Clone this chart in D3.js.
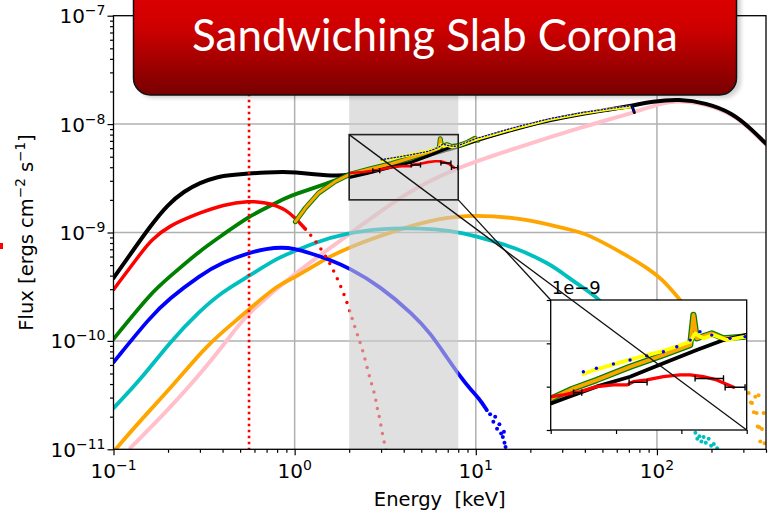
<!DOCTYPE html>
<html>
<head>
<meta charset="utf-8">
<script src="https://cdn.jsdelivr.net/npm/d3@7"></script>
<style>
  body { margin: 0; background: #fff; }
  svg { display: block; font-family: "DejaVu Sans", sans-serif; }
</style>
</head>
<body>
<svg id="chart" width="775" height="517"></svg>
<script>
// ---- model components, [energy keV, flux] ----
const blackModel = [[0.1,3.8e-10],[0.117,5.5e-10],[0.161,1.17e-9],[0.2,1.82e-9],[0.245,2.4e-9],[0.3,2.88e-9],
  [0.374,3.27e-9],[0.45,3.39e-9],[0.558,3.5e-9],[0.7,3.59e-9],[0.87,3.63e-9],[1.0,3.59e-9],[1.27,3.45e-9],
  [1.71,3.32e-9],[2.0,3.4e-9],[3,3.9e-9],[4,4.4e-9],[6,5.4e-9],[8,6.2e-9],[10,7.1e-9],[16.7,9.1e-9],
  [25.5,1.09e-8],[39,1.25e-8],[54.5,1.36e-8],[70,1.46e-8],[95,1.62e-8],[133,1.7e-8],[186,1.57e-8],
  [261,1.27e-8],[334,8.9e-9],[400,6.6e-9]];
const redModel = [[0.1,2.97e-10],[0.146,6.9e-10],[0.161,8.4e-10],[0.2,1.15e-9],[0.303,1.53e-9],[0.4,1.8e-9],
  [0.558,1.96e-9],[0.7,1.88e-9],[0.8,1.76e-9],[0.89,1.62e-9],[1.0,1.38e-9],[1.145,1.08e-9]];
const redModelTail = [[1.145,1.08e-9],[1.27,8.8e-10],[1.38,7.3e-10],[1.57,5.2e-10],[1.75,3.55e-10],[1.94,2.32e-10],
  [2.07,1.63e-10],[2.22,1.14e-10],[2.4,7.8e-11],[2.55,5.1e-11],[2.67,3.94e-11],[2.79,3.07e-11],[2.85,2.4e-11],
  [2.95,1.94e-11],[3.04,1.41e-11],[3.17,1.06e-11],[3.25,8e-12]];
const greenModel = [[0.1,1.04e-10],[0.161,2.77e-10],[0.2,3.79e-10],[0.303,6.9e-10],[0.4,9.5e-10],[0.558,1.4e-9],
  [0.7,1.7e-9],[0.89,2.08e-9],[1.0,2.25e-9],[1.355,2.66e-9],[1.71,3.07e-9],[1.9,3.29e-9],[2.2,3.5e-9]];
const blueModel = [[0.1,6.35e-11],[0.161,1.69e-10],[0.2,2.4e-10],[0.303,4.08e-10],[0.4,5.3e-10],[0.558,6.5e-10],
  [0.7,7.1e-10],[0.85,7.3e-10],[1.0,7.1e-10],[1.2,6.5e-10],[1.57,5.6e-10],[2.0,4.7e-10],[2.96,3.2e-10],
  [4.54,1.74e-10],[5.61,1.18e-10],[6.94,7.0e-11],[8.2,4.7e-11],[9.3,3.6e-11],[10.5,2.9e-11],[11.5,2.3e-11]];
const blueTail = [[12.0,2.1e-11],[12.5,1.8e-11],[12.8,2.0e-11],[13.1,1.55e-11],[13.5,1.7e-11],[13.8,1.4e-11],
  [14.1,1.3e-11],[14.3,1.45e-11],[14.4,1.15e-11],[14.6,1.05e-11]];
const cyanModel = [[0.1,2.4e-11],[0.141,4.38e-11],[0.206,9.9e-11],[0.3,1.9e-10],[0.4,2.85e-10],[0.558,3.96e-10],
  [0.83,6.0e-10],[1.0,6.7e-10],[1.27,8.0e-10],[1.94,9.9e-10],[3,1.08e-9],[4,1.1e-9],[6,1.08e-9],[8.5,9.9e-10],
  [11,8.8e-10],[16,7.4e-10],[25.5,5.2e-10],[32,3.9e-10],[37,3.3e-10],[46,2.58e-10],[60,1.7e-10],[80,9e-11],
  [110,4e-11],[140,2.0e-11]];
const cyanTail = [[163,1.42e-11],[167,1.25e-11],[171.6,1.32e-11],[176,1.18e-11],[181,1.3e-11],[186,1.15e-11],
  [193,1.25e-11],[199,1.08e-11],[206,1.12e-11],[215,1.02e-11]];
const orangeModel = [[0.1,9.5e-12],[0.141,1.85e-11],[0.215,3.94e-11],[0.328,9.2e-11],[0.48,1.56e-10],[0.558,1.95e-10],
  [0.83,3.4e-10],[1.0,3.8e-10],[1.44,5.6e-10],[1.94,7.2e-10],[3.66,1.06e-9],[6.35,1.36e-9],[9.7,1.46e-9],
  [18.2,1.36e-9],[32.9,1.06e-9],[40.6,9.9e-10],[70,6.0e-10],[90,4.6e-10],[107,3.7e-10],[127,2.67e-10],[150,1.9e-10]];
const orangeTail = [[321,3.3e-11],[330,2.7e-11],[335,2.67e-11],[343,2.2e-11],[349,3.06e-11],[355,2.16e-11],
  [360,1.62e-11],[364,3.15e-11],[368,1.6e-11],[372,1.18e-11],[380,1.54e-11],[388,2.16e-11],[393,1.14e-11]];
const pinkModel = [[0.124,1.03e-11],[0.2,2.3e-11],[0.328,5.8e-11],[0.5,1.46e-10],[0.558,1.81e-10],[1.0,4.24e-10],
  [1.94,9.2e-10],[4,2.3e-9],[8.17,4.1e-9],[16.7,6.0e-9],[39,9.5e-9],[73,1.26e-8],[103,1.55e-8],[133,1.66e-8],
  [186,1.53e-8],[261,1.24e-8],[334,8.7e-9],[400,6.45e-9]];

// ---- observed spectra ----
const orangeData = [[1.01,1.26e-9],[1.145,1.68e-9],[1.355,2.31e-9],[1.675,2.96e-9],[2.03,3.46e-9],[2.66,3.9e-9],
  [3.41,4.31e-9],[4.43,4.92e-9],[5.45,5.46e-9],[6.27,5.92e-9],[6.37,7.31e-9],[6.47,6.23e-9],[6.93,6.46e-9],
  [7.29,6.23e-9],[7.95,6.31e-9],[9.0,6.8e-9],[9.9,7.4e-9],[10.3,7.1e-9]];
const yellowData = [[3.0,4.58e-9],[3.4,4.8e-9],[4.43,5.25e-9],[5.45,5.65e-9],[6.27,6.07e-9],[6.42,6.46e-9],
  [6.67,6.23e-9],[6.98,6.38e-9],[7.39,6.15e-9],[7.95,6.31e-9],[10,7.2e-9],[16.7,9.2e-9],[25.5,1.1e-8],
  [39,1.26e-8],[54.5,1.37e-8],[70.5,1.44e-8]];
const blueData = [[3.0,4.69e-9],[3.4,4.85e-9],[3.92,5.05e-9],[4.43,5.23e-9],[4.94,5.42e-9],[5.45,5.61e-9],
  [5.86,5.84e-9],[6.27,6.15e-9],[6.57,6.54e-9],[6.93,6.38e-9],[7.49,6.23e-9],[7.95,6.31e-9],[10,7.35e-9],
  [16.7,9.4e-9],[25.5,1.12e-8],[39,1.28e-8],[54.5,1.39e-8],[70.5,1.47e-8],[73,1.48e-8],[75,1.28e-8]];
const blackData = [[2.03,3.23e-9],[2.5,3.5e-9],[3.4,4.0e-9],[4.43,4.46e-9],[5.45,5.08e-9],[6.47,5.69e-9],
  [7.29,6.15e-9],[7.95,6.38e-9],[10,7.1e-9],[16.7,9.1e-9],[25.5,1.09e-8],[39,1.25e-8],[54.5,1.36e-8],
  [70.5,1.44e-8],[73,1.45e-8],[75,1.28e-8]];
const redData = [[2.03,3.54e-9],[2.39,3.62e-9],[2.9,3.77e-9],[3.4,4.0e-9],[3.92,4.08e-9],[4.33,4.08e-9],
  [4.53,4.23e-9],[4.94,4.31e-9],[5.45,4.46e-9],[5.96,4.54e-9],[6.27,4.54e-9],[6.67,4.46e-9],[7.08,4.31e-9],
  [7.6,3.97e-9]];
// [E low, E high, flux]
const redErr = [[2.7,2.95,3.72e-9],[4.4,4.95,4.2e-9],[6.42,7.29,4.38e-9],[7.34,7.95,3.97e-9]];

const majorX = [0.1, 1, 10, 100];
const majorY = [1e-11, 1e-10, 1e-9, 1e-8, 1e-7];
const insetTicksX = [2, 4, 6, 8];
const insetTicksY = [2e-9, 4e-9, 6e-9, 8e-9];
const band = [2, 8];
const peakLine = 0.56;

const svg = d3.select('#chart');
const L = 113.5, R = 766, T = 15.7, B = 449.3;
const IL = 550.7, IR = 746.7, IT = 300, IB = 430;

const x = d3.scaleLog().domain([0.1, 400]).range([L, R]);
const y = d3.scaleLog().domain([1e-11, 1e-7]).range([B, T]);
const xi = d3.scaleLinear().domain([2, 8]).range([IL, IR]);
const yi = d3.scaleLinear().domain([2e-9, 8e-9]).range([IB, IT]);

const defs = svg.append('defs');
defs.append('clipPath').attr('id', 'plotClip').append('rect')
    .attr('x', L).attr('y', T).attr('width', R - L).attr('height', B - T);
defs.append('clipPath').attr('id', 'insetClip').append('rect')
    .attr('x', IL).attr('y', IT).attr('width', IR - IL).attr('height', IB - IT);
const grad = defs.append('linearGradient').attr('id', 'banner').attr('x1', 0).attr('y1', 0).attr('x2', 0).attr('y2', 1);
grad.append('stop').attr('offset', '0%').attr('stop-color', '#e60000');
grad.append('stop').attr('offset', '45%').attr('stop-color', '#d00000');
grad.append('stop').attr('offset', '100%').attr('stop-color', '#780000');
defs.append('filter').attr('id', 'blur').append('feGaussianBlur').attr('stdDeviation', 2);

function minors(lo, hi) {
    const out = [];
    for (let e = lo; e < hi; e++) for (let m = 2; m <= 9; m++) out.push(m * Math.pow(10, e));
    return out;
}

// grid
const grid = svg.append('g').attr('stroke', '#b0b0b0').attr('stroke-width', 1.5);
grid.selectAll('line.gx').data(majorX.slice(1)).join('line')
    .attr('x1', d => x(d)).attr('x2', d => x(d)).attr('y1', T).attr('y2', B);
grid.selectAll('line.gy').data(majorY.slice(1, -1)).join('line')
    .attr('x1', L).attr('x2', R).attr('y1', d => y(d)).attr('y2', d => y(d));

const plot = svg.append('g').attr('clip-path', 'url(#plotClip)');

function curve(g, data, xs, ys, color, width, dash, smooth) {
    const line = d3.line().x(d => xs(d[0])).y(d => ys(d[1]))
        .curve(smooth ? d3.curveBasis : d3.curveLinear);
    const p = g.append('path').datum(data).attr('d', line)
        .attr('fill', 'none').attr('stroke', color).attr('stroke-width', width)
        .attr('stroke-linejoin', 'round').attr('stroke-linecap', 'round');
    if (dash) p.attr('stroke-dasharray', dash);
    return p;
}
function model(data, color, width, dash) {
    return curve(plot, data, x, y, color, width, dash, true);
}
function dots(g, data, xs, ys, color, r) {
    g.append('g').selectAll('circle').data(data).join('circle')
        .attr('cx', d => xs(d[0])).attr('cy', d => ys(d[1])).attr('r', r).attr('fill', color);
}

// model components
model(pinkModel, 'pink', 4);
model(orangeModel, 'orange', 3.8);
dots(plot, orangeTail, x, y, 'orange', 2);
model(cyanModel, '#00bfbf', 3.8);
dots(plot, cyanTail, x, y, '#00bfbf', 2);
model(blueModel, 'blue', 3.8);
dots(plot, blueTail, x, y, 'blue', 2);
model(greenModel, 'green', 3.8);
model(blackModel, 'black', 4);
model(redModel, 'red', 3.5);
model(redModelTail, 'red', 3.5, '0,8.5');

// red dotted marker line
plot.append('line')
    .attr('x1', x(peakLine)).attr('x2', x(peakLine)).attr('y1', T).attr('y2', B)
    .attr('stroke', 'red').attr('stroke-width', 2.6).attr('stroke-dasharray', '2.6,3.4');

// shaded 2-8 keV band
plot.append('rect')
    .attr('x', x(band[0])).attr('width', x(band[1]) - x(band[0]))
    .attr('y', T).attr('height', B - T)
    .attr('fill', '#cbcbcb').attr('opacity', 0.6);

function spectra(g, xs, ys, scale) {
    curve(g, orangeData, xs, ys, 'green', 5 * scale);
    curve(g, orangeData, xs, ys, 'orange', 3 * scale);
    curve(g, blackData, xs, ys, 'black', 3 * scale);
    curve(g, yellowData, xs, ys, 'yellow', 3 * scale);
    curve(g, redData, xs, ys, 'red', 2.6 * scale);
    const eb = g.append('g').attr('stroke', 'black').attr('stroke-width', 1.4);
    redErr.forEach(d => {
        eb.append('line').attr('x1', xs(d[0])).attr('x2', xs(d[1])).attr('y1', ys(d[2])).attr('y2', ys(d[2]));
        [d[0], d[1]].forEach(e => eb.append('line').attr('x1', xs(e)).attr('x2', xs(e))
            .attr('y1', ys(d[2]) - 2.5 * scale).attr('y2', ys(d[2]) + 2.5 * scale));
    });
}

// observed spectra on the main axes
spectra(plot, x, y, 1);
curve(plot, blueData, x, y, 'blue', 1.3, '1.3,2');

// axes
const ax = svg.append('g').attr('font-size', 20).attr('fill', '#000');
function styleAxis(g) {
    g.select('.domain').remove();
    g.selectAll('line').attr('stroke', '#000').attr('stroke-width', 1.2);
}
ax.append('g').attr('transform', `translate(0,${B})`)
    .call(d3.axisBottom(x).tickValues(minors(-1, 3).filter(d => d <= 400)).tickSize(3.5).tickFormat(''))
    .call(styleAxis);
ax.append('g').attr('transform', `translate(0,${B})`)
    .call(d3.axisBottom(x).tickValues(majorX).tickSize(6).tickFormat(''))
    .call(styleAxis);
ax.append('g').attr('transform', `translate(${L},0)`)
    .call(d3.axisLeft(y).tickValues(minors(-11, -7)).tickSize(3.5).tickFormat(''))
    .call(styleAxis);
ax.append('g').attr('transform', `translate(${L},0)`)
    .call(d3.axisLeft(y).tickValues(majorY).tickSize(6).tickFormat(''))
    .call(styleAxis);

function sup(t, e) {
    t.append('tspan').text('10');
    t.append('tspan').attr('dy', -8).attr('font-size', 14).text((e < 0 ? '\u2212' : '') + Math.abs(e));
}
ax.selectAll('text.ylab').data(majorY).join('text')
    .attr('x', L - 8).attr('y', d => y(d) + 7.5).attr('text-anchor', 'end')
    .each(function (d) { sup(d3.select(this), Math.round(Math.log10(d))); });
ax.selectAll('text.xlab').data(majorX).join('text')
    .attr('x', d => x(d)).attr('y', B + 29).attr('text-anchor', 'middle')
    .each(function (d) { sup(d3.select(this), Math.round(Math.log10(d))); });

ax.append('text').attr('x', (L + R) / 2).attr('y', 506).attr('text-anchor', 'middle')
    .attr('font-size', 19.5).style('white-space', 'pre').text('Energy  [keV]');
const yl = ax.append('text').attr('transform', `translate(33,${(T + B) / 2}) rotate(-90)`)
    .attr('text-anchor', 'middle').attr('font-size', 19.5);
yl.append('tspan').text('Flux [ergs cm');
yl.append('tspan').attr('dy', -8).attr('font-size', 13.5).text('\u22122');
yl.append('tspan').attr('dy', 8).text(' s');
yl.append('tspan').attr('dy', -8).attr('font-size', 13.5).text('\u22121');
yl.append('tspan').attr('dy', 8).text(']');

svg.append('rect').attr('x', L).attr('y', T).attr('width', R - L).attr('height', B - T)
    .attr('fill', 'none').attr('stroke', '#000').attr('stroke-width', 1.3);

// zoom box
svg.append('rect')
    .attr('x', x(2)).attr('y', y(8e-9)).attr('width', x(8) - x(2)).attr('height', y(2e-9) - y(8e-9))
    .attr('fill', 'none').attr('stroke', '#222').attr('stroke-width', 1.6);

// inset
svg.append('rect').attr('x', IL).attr('y', IT).attr('width', IR - IL).attr('height', IB - IT).attr('fill', '#fff');
const ins = svg.append('g').attr('clip-path', 'url(#insetClip)');
spectra(ins, xi, yi, 1.25);
dots(ins, blueData.filter(d => d[0] <= 8), xi, yi, 'blue', 1.7);
svg.append('g').attr('transform', `translate(0,${IB})`)
    .call(d3.axisBottom(xi).tickValues(insetTicksX).tickSize(4).tickFormat(''))
    .call(styleAxis);
svg.append('g').attr('transform', `translate(${IL},0)`)
    .call(d3.axisLeft(yi).tickValues(insetTicksY).tickSize(4).tickFormat(''))
    .call(styleAxis);
svg.append('rect').attr('x', IL).attr('y', IT).attr('width', IR - IL).attr('height', IB - IT)
    .attr('fill', 'none').attr('stroke', '#000').attr('stroke-width', 1.3);
svg.append('text').attr('x', IL + 1).attr('y', IT - 6).attr('font-size', 18).text('1e\u22129');

// connectors
const conn = svg.append('g').attr('stroke', '#111').attr('stroke-width', 1.3);
conn.append('line').attr('x1', x(2)).attr('y1', y(8e-9)).attr('x2', IR).attr('y2', IB);
conn.append('line').attr('x1', x(8)).attr('y1', y(2e-9)).attr('x2', IL).attr('y2', IT);

// stray slide mark at the left edge
svg.append('rect').attr('x', 0).attr('y', 243).attr('width', 3).attr('height', 6).attr('fill', 'red');

// title banner
svg.append('rect').attr('x', 137).attr('y', -30).attr('width', 604).attr('height', 128).attr('rx', 17)
    .attr('fill', '#000').attr('opacity', 0.18).attr('filter', 'url(#blur)');
svg.append('rect').attr('x', 133.5).attr('y', -30).attr('width', 603).attr('height', 125).attr('rx', 17)
    .attr('fill', 'url(#banner)').attr('stroke', '#111').attr('stroke-width', 1.5);
const title = svg.append('text').attr('x', 435).attr('y', 51).attr('text-anchor', 'middle')
    .attr('font-family', 'Lato, "Open Sans", sans-serif').attr('font-size', 43).attr('fill', '#fff')
    .text('Sandwiching Slab Corona');
const tw = title.node().getComputedTextLength();
title.attr('font-size', 43 * 486 / tw);
</script>
</body>
</html>
